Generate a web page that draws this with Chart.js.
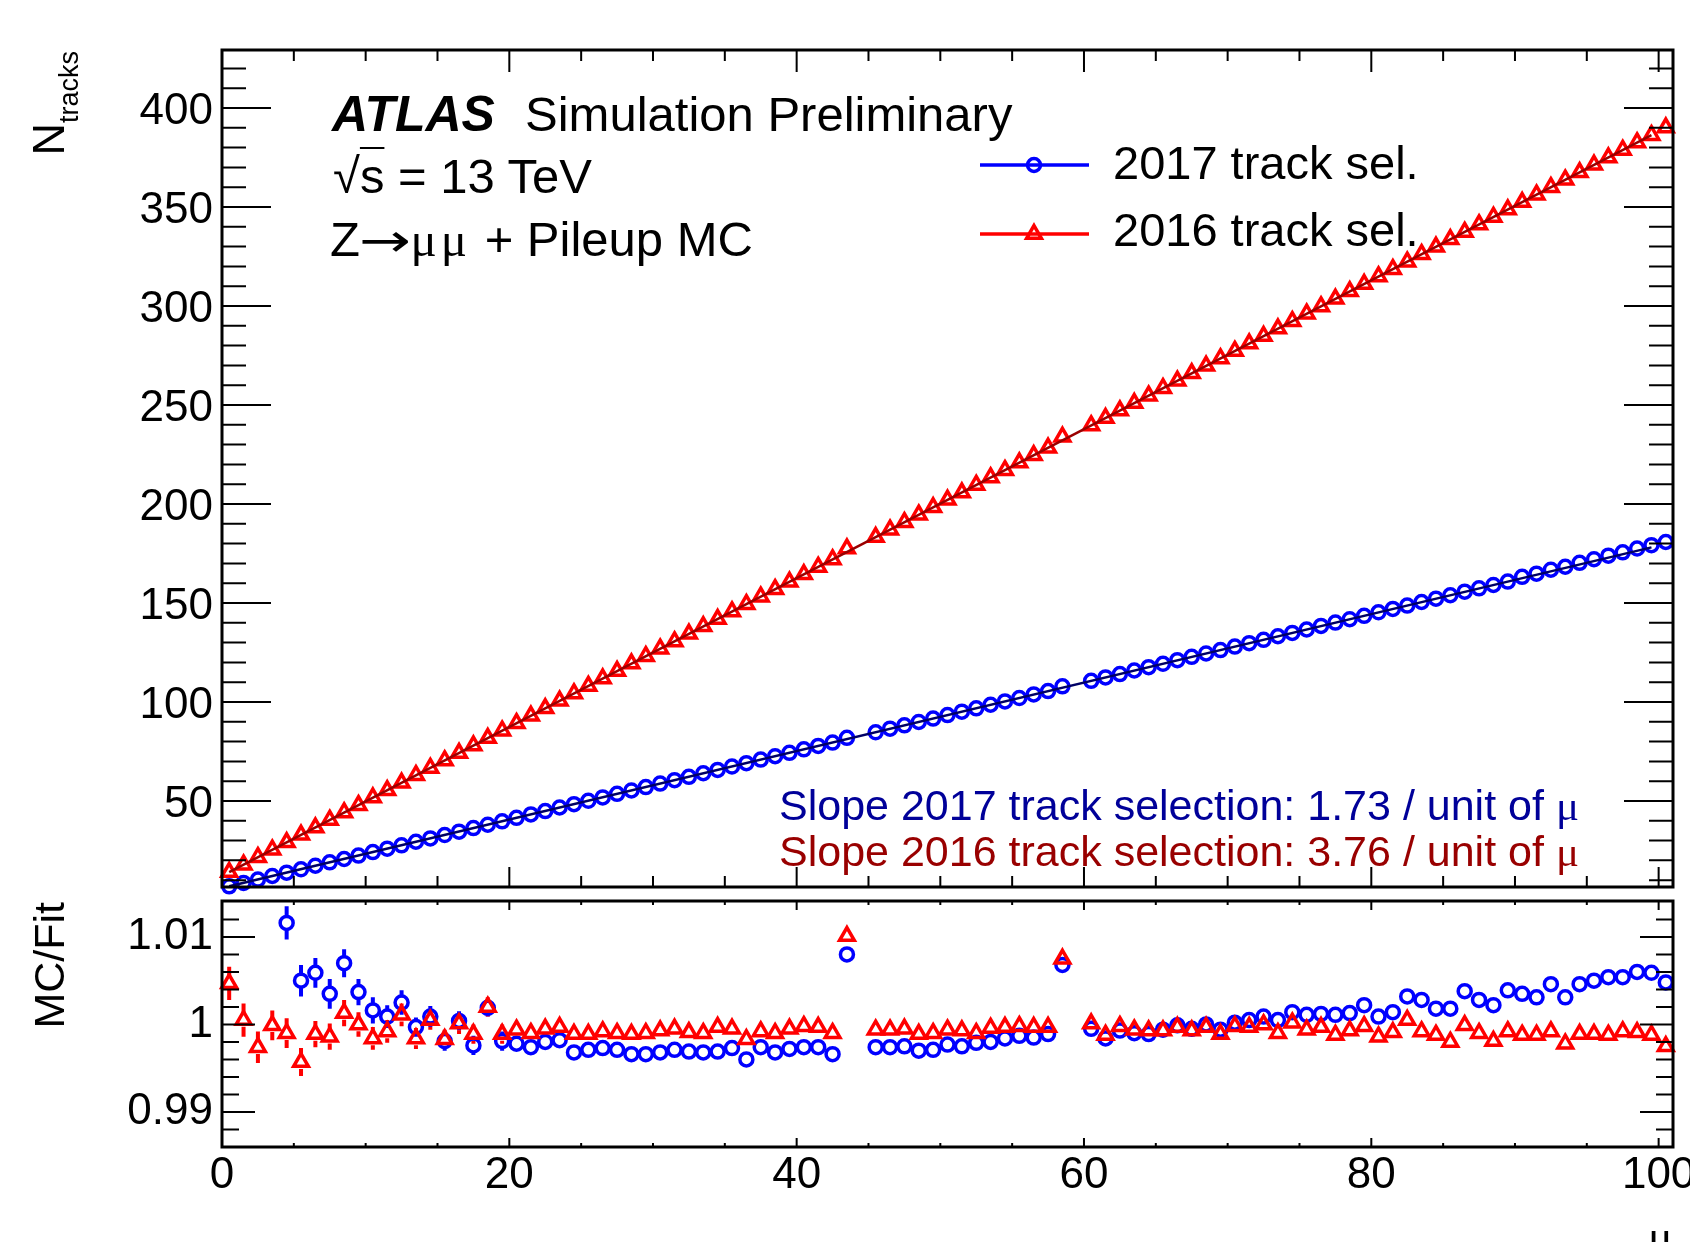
<!DOCTYPE html>
<html>
<head>
<meta charset="utf-8">
<title>N tracks vs mu</title>
<script src="https://cdn.jsdelivr.net/npm/chart.js"></script>
<style>
  html, body { margin: 0; padding: 0; background: #fff; }
  body { position: relative; width: 1690px; height: 1242px; overflow: hidden;
         font-family: "Liberation Sans", Arial, Helvetica, sans-serif; color: #000; }
  .box { position: absolute; left: 0; width: 1690px; }
  #mainBox { top: 0; height: 895px; }
  #ratioBox { top: 895px; height: 347px; }
  canvas { display: block; }
  .txt { position: absolute; white-space: nowrap; line-height: 1; }
  .sym { font-family: "Liberation Serif", "DejaVu Serif", serif; }
  .arr { font-family: "DejaVu Sans", sans-serif; display: inline-block; transform: scaleX(1.35); margin: 0 6px; }
  .rot { transform: rotate(-90deg); transform-origin: 0 0; width: 300px; text-align: right; }
</style>
</head>
<body>
<div class="box" id="mainBox"><canvas id="mainChart"></canvas></div>
<div class="box" id="ratioBox"><canvas id="ratioChart"></canvas></div>

<!-- labels -->
<div class="txt" style="left:332px;top:89px;font-size:50px;font-weight:bold;font-style:italic;">ATLAS</div>
<div class="txt" style="left:525px;top:89.5px;font-size:49px;">Simulation Preliminary</div>
<div class="txt" style="left:333px;top:151.5px;font-size:49px;">√<span style="text-decoration:overline;text-decoration-thickness:2px;">s</span> = 13 TeV</div>
<div class="txt" style="left:330px;top:215px;font-size:49px;">Z<span class="arr" style="font-size:46px;">→</span><span class="sym" style="letter-spacing:4px;">μμ</span> + Pileup MC</div>

<div class="txt" style="left:1113px;top:139px;font-size:47px;">2017 track sel.</div>
<div class="txt" style="left:1113px;top:206px;font-size:47px;">2016 track sel.</div>

<div class="txt" style="left:779px;top:784px;font-size:43px;color:#000099;">Slope 2017 track selection: 1.73 / unit of <span class="sym">μ</span></div>
<div class="txt" style="left:779px;top:830px;font-size:43px;color:#990000;">Slope 2016 track selection: 3.76 / unit of <span class="sym">μ</span></div>

<div class="txt rot" style="left:26px;top:351px;font-size:45px;">N<span style="font-size:27px;position:relative;top:14px;">tracks</span></div>
<div class="txt rot" style="left:28px;top:1202px;font-size:43px;">MC/Fit</div>
<div class="txt sym" style="left:1648px;top:1214px;font-size:46px;">μ</div>

<script>
// bin centres in mu
const mu = [
  0.5, 1.5, 2.5, 3.5, 4.5, 5.5, 6.5, 7.5, 8.5, 9.5,
  10.5, 11.5, 12.5, 13.5, 14.5, 15.5, 16.5, 17.5, 18.5, 19.5,
  20.5, 21.5, 22.5, 23.5, 24.5, 25.5, 26.5, 27.5, 28.5, 29.5,
  30.5, 31.5, 32.5, 33.5, 34.5, 35.5, 36.5, 37.5, 38.5, 39.5,
  40.5, 41.5, 42.5, 43.5, 44.5, 45.5, 46.5, 47.5, 48.5, 49.5,
  50.5, 51.5, 52.5, 53.5, 54.5, 55.5, 56.5, 57.5, 58.5, 59.5,
  60.5, 61.5, 62.5, 63.5, 64.5, 65.5, 66.5, 67.5, 68.5, 69.5,
  70.5, 71.5, 72.5, 73.5, 74.5, 75.5, 76.5, 77.5, 78.5, 79.5,
  80.5, 81.5, 82.5, 83.5, 84.5, 85.5, 86.5, 87.5, 88.5, 89.5,
  90.5, 91.5, 92.5, 93.5, 94.5, 95.5, 96.5, 97.5, 98.5, 99.5,
  100.5
];

// N tracks, 2017 selection (blue circles)
const n2017 = [
  6.9, 8.6, 10.3, 12.1, 13.8, 15.5, 17.3, 19.0, 20.7, 22.4,
  24.2, 25.9, 27.6, 29.4, 31.1, 32.8, 34.5, 36.3, 38.0, 39.7,
  41.5, 43.2, 44.9, 46.7, 48.4, 50.1, 51.8, 53.6, 55.3, 57.0,
  58.8, 60.5, 62.2, 64.0, 65.7, 67.4, 69.1, 70.9, 72.6, 74.3,
  76.1, 77.8, 79.5, 81.9, null, 84.7, 86.5, 88.2, 89.9, 91.6,
  93.4, 95.1, 96.8, 98.6, 100.3, 102.0, 103.8, 105.5, 107.9, null,
  110.7, 112.4, 114.1, 115.9, 117.6, 119.3, 121.1, 122.8, 124.5, 126.2,
  128.0, 129.7, 131.4, 133.2, 134.9, 136.6, 138.4, 140.1, 141.8, 143.5,
  145.3, 147.0, 148.7, 150.5, 152.2, 153.9, 155.7, 157.4, 159.1, 160.8,
  163.2, 164.8, 166.8, 168.3, 170.3, 172.1, 173.9, 175.6, 177.5, 179.2,
  180.8
];

// N tracks, 2016 selection (red triangles)
const n2016 = [
  14.1, 17.8, 21.6, 25.4, 29.1, 32.9, 36.6, 40.4, 44.2, 47.9,
  51.7, 55.4, 59.2, 63.0, 66.7, 70.5, 74.2, 78.0, 81.8, 85.5,
  89.3, 93.0, 96.8, 100.6, 104.3, 108.1, 111.8, 115.6, 119.4, 123.1,
  126.9, 130.6, 134.4, 138.2, 141.9, 145.7, 149.4, 153.2, 157.0, 160.7,
  164.5, 168.2, 172.0, 177.5, null, 183.3, 187.0, 190.8, 194.6, 198.3,
  202.1, 205.8, 209.6, 213.4, 217.1, 220.9, 224.6, 228.4, 233.9, null,
  239.7, 243.4, 247.2, 251.0, 254.7, 258.5, 262.2, 266.0, 269.8, 273.5,
  277.3, 281.0, 284.8, 288.6, 292.3, 296.1, 299.8, 303.6, 307.4, 311.1,
  314.9, 318.6, 322.4, 326.2, 329.9, 333.7, 337.4, 341.2, 345.0, 348.7,
  352.5, 356.2, 360.0, 363.8, 367.5, 371.3, 375.0, 378.8, 382.6, 386.3,
  390.1
];

// linear fits, end points
const fitMu = [0.5, 99.5];
const fit2017 = [6.9, 178.1];
const fit2016 = [14.1, 386.3];

// MC / fit ratios
const ratio2017 = [
  null, null, null, null, 1.0116, 1.0050, 1.0059, 1.0035, 1.0070, 1.0037,
  1.0016, 1.0009, 1.0025, 0.9997, 1.0009, 0.9981, 1.0004, 0.9976, 1.0019, 0.9981,
  0.9978, 0.9974, 0.9980, 0.9982, 0.9968, 0.9971, 0.9973, 0.9971, 0.9966, 0.9966,
  0.9968, 0.9971, 0.9969, 0.9968, 0.9969, 0.9973, 0.9960, 0.9974, 0.9968, 0.9972,
  0.9974, 0.9974, 0.9966, 1.0080, null, 0.9974, 0.9974, 0.9975, 0.9970, 0.9971,
  0.9977, 0.9975, 0.9979, 0.9980, 0.9984, 0.9987, 0.9985, 0.9989, 1.0068, null,
  0.9995, 0.9984, 0.9993, 0.9990, 0.9989, 0.9994, 0.9999, 0.9995, 1.0000, 0.9994,
  1.0002, 1.0005, 1.0009, 1.0005, 1.0014, 1.0011, 1.0012, 1.0011, 1.0013, 1.0022,
  1.0009, 1.0014, 1.0032, 1.0028, 1.0018, 1.0018, 1.0038, 1.0028, 1.0022, 1.0039,
  1.0035, 1.0031, 1.0046, 1.0031, 1.0046, 1.0050, 1.0054, 1.0054, 1.0060, 1.0059,
  1.0048
];

const ratio2016 = [
  1.0047, 1.0005, 0.9974, 0.9999, 0.9990, 0.9957, 0.9989, 0.9986, 1.0013, 1.0000,
  0.9984, 0.9992, 1.0011, 0.9984, 1.0005, 0.9983, 1.0001, 0.9989, 1.0020, 0.9989,
  0.9994, 0.9990, 0.9995, 0.9997, 0.9989, 0.9989, 0.9992, 0.9990, 0.9989, 0.9990,
  0.9993, 0.9995, 0.9991, 0.9990, 0.9997, 0.9995, 0.9983, 0.9992, 0.9990, 0.9995,
  0.9998, 0.9997, 0.9990, 1.0101, null, 0.9994, 0.9994, 0.9995, 0.9989, 0.9990,
  0.9994, 0.9993, 0.9990, 0.9996, 0.9997, 0.9998, 0.9997, 0.9997, 1.0075, null,
  1.0001, 0.9988, 0.9998, 0.9994, 0.9993, 0.9993, 0.9997, 0.9993, 0.9997, 0.9989,
  0.9998, 0.9997, 1.0000, 0.9990, 1.0002, 0.9994, 0.9997, 0.9988, 0.9993, 0.9998,
  0.9986, 0.9991, 1.0005, 0.9992, 0.9988, 0.9980, 0.9999, 0.9990, 0.9981, 0.9992,
  0.9988, 0.9988, 0.9992, 0.9978, 0.9989, 0.9989, 0.9988, 0.9992, 0.9991, 0.9988,
  0.9975
];

// ratio uncertainties (only visible at low mu)
const err2017 = [
  0, 0, 0, 0, 0.0019, 0.0018, 0.0017, 0.0017, 0.0016, 0.0015,
  0.0015, 0.0013, 0.0014, 0.0011, 0.0012, 0.0011, 0.0011, 0.0011, 0.0010, 0.0011
];
const err2016 = [
  0.0019, 0.0019, 0.0018, 0.0017, 0.0017, 0.0016, 0.0015, 0.0015, 0.0015, 0.0014,
  0.0013, 0.0013, 0.0013, 0.0012, 0.0011, 0.0011, 0.0012, 0.0011, 0.0011, 0.0011
];

// axes
const xRange = [0, 101];
const xTicks = [0, 20, 40, 60, 80, 100];
const mainYRange = [6.55, 429.3];
const mainYTicks = [50, 100, 150, 200, 250, 300, 350, 400];
const ratioYRange = [0.986, 1.0141];
const ratioYTicks = [0.99, 1, 1.01];

const BLUE = '#0000ff';
const RED = '#ff0000';
const FONT = 'Liberation Sans';
const CIRCLE_R = 6.5;
const TRI_R = 8.5;
const MARK_W = 3.5;

function steps(from, to, step) {
  const out = [];
  for (let v = from; v <= to + step / 1000; v += step) out.push(+v.toFixed(4));
  return out;
}

function pts(xs, ys, errs) {
  const out = [];
  xs.forEach((x, i) => {
    if (ys[i] === null) return;
    out.push({ x: x, y: ys[i], e: errs ? (errs[i] || 0) : 0 });
  });
  return out;
}

// ROOT style frame, ticks pointing inwards on all four sides
const frameTicks = {
  id: 'frameTicks',
  afterDatasetsDraw(chart, args, o) {
    const { ctx, chartArea: a } = chart;
    const sx = chart.scales.x, sy = chart.scales.y;
    ctx.save();
    ctx.strokeStyle = '#000';
    ctx.lineWidth = 2;
    ctx.beginPath();
    const doX = (vals, top, bot) => vals.forEach(v => {
      const p = sx.getPixelForValue(v);
      if (p < a.left - 0.5 || p > a.right + 0.5) return;
      ctx.moveTo(p, a.top); ctx.lineTo(p, a.top + top);
      ctx.moveTo(p, a.bottom); ctx.lineTo(p, a.bottom - bot);
    });
    const doY = (vals, len) => vals.forEach(v => {
      const p = sy.getPixelForValue(v);
      if (p < a.top + 1 || p > a.bottom - 1) return;
      ctx.moveTo(a.left, p); ctx.lineTo(a.left + len, p);
      ctx.moveTo(a.right, p); ctx.lineTo(a.right - len, p);
    });
    doX(o.xMinor, o.xMinorTop, o.xMinorBot);
    doX(o.xMajor, o.xMajorTop, o.xMajorBot);
    doY(o.yMinor, o.yMinorLen);
    doY(o.yMajor, o.yMajorLen);
    ctx.stroke();
    ctx.lineWidth = 3;
    ctx.strokeRect(a.left, a.top, a.right - a.left, a.bottom - a.top);
    ctx.restore();
  }
};

// vertical error bars, left open inside the marker
const errorBars = {
  id: 'errorBars',
  beforeDatasetsDraw(chart) {
    const ctx = chart.ctx, sy = chart.scales.y;
    ctx.save();
    ctx.lineWidth = 4;
    chart.data.datasets.forEach((ds, di) => {
      const meta = chart.getDatasetMeta(di);
      ctx.strokeStyle = ds.pointBorderColor;
      ds.data.forEach((d, i) => {
        if (!d.e) return;
        const el = meta.data[i];
        const yHi = sy.getPixelForValue(d.y + d.e);
        const yLo = sy.getPixelForValue(d.y - d.e);
        const gap = ds.pointRadius * 0.8;
        ctx.beginPath();
        if (el.y - gap > yHi) { ctx.moveTo(el.x, yHi); ctx.lineTo(el.x, el.y - gap); }
        if (el.y + gap < yLo) { ctx.moveTo(el.x, el.y + gap); ctx.lineTo(el.x, yLo); }
        ctx.stroke();
      });
    });
    ctx.restore();
  }
};

// legend symbols (line + marker)
const legendRows = [
  { y: 165, color: BLUE, style: 'circle', radius: CIRCLE_R },
  { y: 234, color: RED, style: 'triangle', radius: TRI_R }
];
const legendSymbols = {
  id: 'legendSymbols',
  afterDraw(chart) {
    const ctx = chart.ctx;
    legendRows.forEach(r => {
      ctx.save();
      ctx.strokeStyle = r.color;
      ctx.fillStyle = 'rgba(0,0,0,0)';
      ctx.lineWidth = 3.5;
      ctx.beginPath();
      ctx.moveTo(980, r.y);
      ctx.lineTo(1089, r.y);
      ctx.stroke();
      ctx.lineWidth = MARK_W;
      Chart.helpers.drawPoint(ctx, { pointStyle: r.style, radius: r.radius, borderWidth: MARK_W, rotation: 0 }, 1034, r.y);
      ctx.restore();
    });
  }
};

function yScale(range, ticks, offset) {
  return {
    type: 'linear', min: range[0], max: range[1],
    afterBuildTicks: s => { s.ticks = ticks.map(v => ({ value: v })); },
    afterFit: s => { s.width = 222; s.paddingTop = 0; s.paddingBottom = 0; },
    grid: { display: false, drawTicks: false },
    border: { display: false },
    ticks: { color: '#000', font: { family: FONT, size: 44 }, padding: 9, autoSkip: false,
             labelOffset: offset, callback: v => String(v) }
  };
}

function markerSet(data, style, color, radius, order) {
  return {
    data: data, showLine: false, pointStyle: style, pointRadius: radius,
    pointBorderColor: color, pointBackgroundColor: 'rgba(0,0,0,0)', pointBorderWidth: MARK_W,
    order: order, clip: false
  };
}

Chart.defaults.font.family = FONT;

new Chart(document.getElementById('mainChart'), {
  type: 'scatter',
  data: {
    datasets: [
      { data: fitMu.map((x, i) => ({ x: x, y: fit2017[i] })), showLine: true, borderColor: '#000066',
        borderWidth: 2.5, pointRadius: 0, order: 0 },
      { data: fitMu.map((x, i) => ({ x: x, y: fit2016[i] })), showLine: true, borderColor: '#990000',
        borderWidth: 2.5, pointRadius: 0, order: 0 },
      markerSet(pts(mu, n2017), 'circle', BLUE, CIRCLE_R, 2),
      markerSet(pts(mu, n2016), 'triangle', RED, TRI_R, 1)
    ]
  },
  options: {
    responsive: true, maintainAspectRatio: false, animation: false, events: [],
    layout: { autoPadding: false, padding: { top: 50, right: 17, bottom: 8, left: 0 } },
    plugins: {
      legend: { display: false }, tooltip: { enabled: false },
      frameTicks: {
        xMajor: xTicks, xMinor: steps(0, 100, 5),
        xMajorTop: 22, xMinorTop: 11, xMajorBot: 20, xMinorBot: 11,
        yMajor: mainYTicks, yMinor: steps(10, 420, 10),
        yMajorLen: 49, yMinorLen: 24
      }
    },
    scales: {
      x: { type: 'linear', min: xRange[0], max: xRange[1], display: false },
      y: yScale(mainYRange, mainYTicks, 4)
    }
  },
  plugins: [frameTicks, legendSymbols]
});

new Chart(document.getElementById('ratioChart'), {
  type: 'scatter',
  data: {
    datasets: [
      markerSet(pts(mu, ratio2017, err2017), 'circle', BLUE, CIRCLE_R, 2),
      markerSet(pts(mu, ratio2016, err2016), 'triangle', RED, TRI_R, 1)
    ]
  },
  options: {
    responsive: true, maintainAspectRatio: false, animation: false, events: [],
    layout: { autoPadding: false, padding: { top: 6, right: 17, bottom: 0, left: 0 } },
    plugins: {
      legend: { display: false }, tooltip: { enabled: false },
      frameTicks: {
        xMajor: xTicks, xMinor: steps(0, 100, 5),
        xMajorTop: 9, xMinorTop: 4, xMajorBot: 9, xMinorBot: 4,
        yMajor: ratioYTicks, yMinor: steps(0.986, 1.014, 0.002),
        yMajorLen: 33, yMinorLen: 17
      }
    },
    scales: {
      x: {
        type: 'linear', min: xRange[0], max: xRange[1],
        afterBuildTicks: s => { s.ticks = xTicks.map(v => ({ value: v })); },
        afterFit: s => { s.height = 95; s.paddingLeft = 0; s.paddingRight = 0; },
        grid: { display: false, drawTicks: false },
        border: { display: false },
        ticks: { color: '#000', font: { family: FONT, size: 44 }, padding: 2, maxRotation: 0,
                 autoSkip: false, callback: v => String(v) }
      },
      y: yScale(ratioYRange, ratioYTicks, 0)
    }
  },
  plugins: [frameTicks, errorBars]
});
</script>
</body>
</html>
